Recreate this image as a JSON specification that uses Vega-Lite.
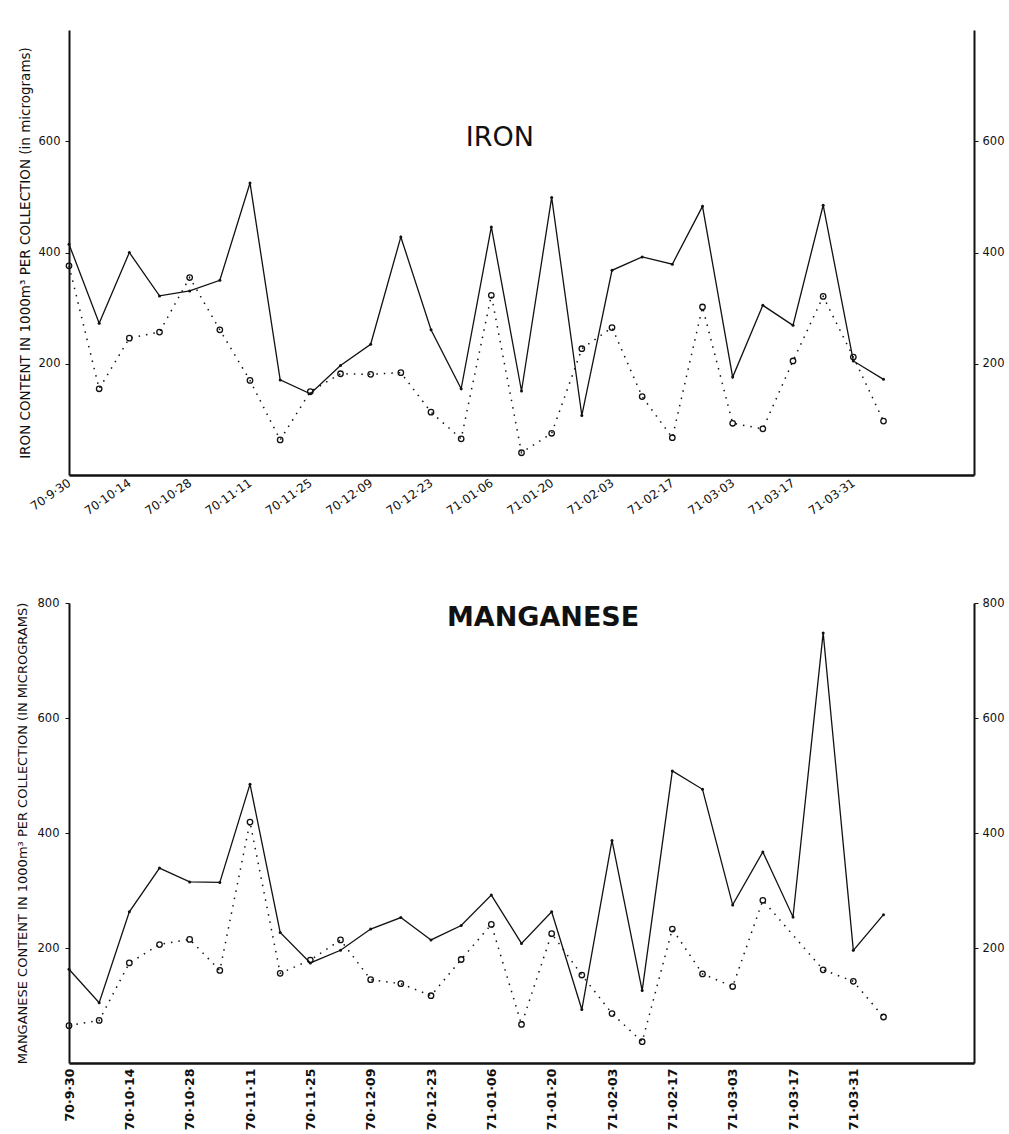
{
  "$schema": "https://vega.github.io/schema/vega-lite/v6.json",
  "background": "white",
  "padding": {"left": 16, "top": 30, "right": 2, "bottom": 2},
  "spacing": 80,
  "config": {
    "view": {"stroke": null},
    "axis": {"domainColor": "#111", "domainWidth": 2, "tickColor": "#111", "labelColor": "#111", "titleColor": "#111", "labelFont": "DejaVu Sans", "titleFont": "DejaVu Sans", "grid": false}
  },
  "datasets": {
    "iron": [
      {"date":"1970-09-30","s":"A","v":415},{"date":"1970-10-07","s":"A","v":273},{"date":"1970-10-14","s":"A","v":400},{"date":"1970-10-21","s":"A","v":322},
      {"date":"1970-10-28","s":"A","v":331},{"date":"1970-11-04","s":"A","v":350},{"date":"1970-11-11","s":"A","v":525},{"date":"1970-11-18","s":"A","v":171},
      {"date":"1970-11-25","s":"A","v":146},{"date":"1970-12-02","s":"A","v":197},{"date":"1970-12-09","s":"A","v":235},{"date":"1970-12-16","s":"A","v":428},
      {"date":"1970-12-23","s":"A","v":261},{"date":"1970-12-30","s":"A","v":155},{"date":"1971-01-06","s":"A","v":446},{"date":"1971-01-13","s":"A","v":151},
      {"date":"1971-01-20","s":"A","v":499},{"date":"1971-01-27","s":"A","v":107},{"date":"1971-02-03","s":"A","v":368},{"date":"1971-02-10","s":"A","v":392},
      {"date":"1971-02-17","s":"A","v":379},{"date":"1971-02-24","s":"A","v":483},{"date":"1971-03-03","s":"A","v":176},{"date":"1971-03-10","s":"A","v":305},
      {"date":"1971-03-17","s":"A","v":269},{"date":"1971-03-24","s":"A","v":485},{"date":"1971-03-31","s":"A","v":205},{"date":"1971-04-07","s":"A","v":172},
      {"date":"1970-09-30","s":"B","v":376},{"date":"1970-10-07","s":"B","v":155},{"date":"1970-10-14","s":"B","v":246},{"date":"1970-10-21","s":"B","v":257},
      {"date":"1970-10-28","s":"B","v":355},{"date":"1970-11-04","s":"B","v":261},{"date":"1970-11-11","s":"B","v":170},{"date":"1970-11-18","s":"B","v":63},
      {"date":"1970-11-25","s":"B","v":150},{"date":"1970-12-02","s":"B","v":182},{"date":"1970-12-09","s":"B","v":181},{"date":"1970-12-16","s":"B","v":184},
      {"date":"1970-12-23","s":"B","v":113},{"date":"1970-12-30","s":"B","v":65},{"date":"1971-01-06","s":"B","v":323},{"date":"1971-01-13","s":"B","v":40},
      {"date":"1971-01-20","s":"B","v":75},{"date":"1971-01-27","s":"B","v":227},{"date":"1971-02-03","s":"B","v":265},{"date":"1971-02-10","s":"B","v":141},
      {"date":"1971-02-17","s":"B","v":67},{"date":"1971-02-24","s":"B","v":302},{"date":"1971-03-03","s":"B","v":93},{"date":"1971-03-10","s":"B","v":83},
      {"date":"1971-03-17","s":"B","v":205},{"date":"1971-03-24","s":"B","v":321},{"date":"1971-03-31","s":"B","v":212},{"date":"1971-04-07","s":"B","v":97}
    ],
    "mn": [
      {"date":"1970-09-30","s":"A","v":163},{"date":"1970-10-07","s":"A","v":105},{"date":"1970-10-14","s":"A","v":263},{"date":"1970-10-21","s":"A","v":339},
      {"date":"1970-10-28","s":"A","v":315},{"date":"1970-11-04","s":"A","v":314},{"date":"1970-11-11","s":"A","v":485},{"date":"1970-11-18","s":"A","v":227},
      {"date":"1970-11-25","s":"A","v":174},{"date":"1970-12-02","s":"A","v":196},{"date":"1970-12-09","s":"A","v":233},{"date":"1970-12-16","s":"A","v":253},
      {"date":"1970-12-23","s":"A","v":214},{"date":"1970-12-30","s":"A","v":239},{"date":"1971-01-06","s":"A","v":292},{"date":"1971-01-13","s":"A","v":208},
      {"date":"1971-01-20","s":"A","v":263},{"date":"1971-01-27","s":"A","v":93},{"date":"1971-02-03","s":"A","v":387},{"date":"1971-02-10","s":"A","v":126},
      {"date":"1971-02-17","s":"A","v":508},{"date":"1971-02-24","s":"A","v":476},{"date":"1971-03-03","s":"A","v":275},{"date":"1971-03-10","s":"A","v":367},
      {"date":"1971-03-17","s":"A","v":254},{"date":"1971-03-24","s":"A","v":748},{"date":"1971-03-31","s":"A","v":196},{"date":"1971-04-07","s":"A","v":258},
      {"date":"1970-09-30","s":"B","v":65},{"date":"1970-10-07","s":"B","v":74},{"date":"1970-10-14","s":"B","v":174},{"date":"1970-10-21","s":"B","v":206},
      {"date":"1970-10-28","s":"B","v":215},{"date":"1970-11-04","s":"B","v":161},{"date":"1970-11-11","s":"B","v":419},{"date":"1970-11-18","s":"B","v":156},
      {"date":"1970-11-25","s":"B","v":179},{"date":"1970-12-02","s":"B","v":214},{"date":"1970-12-09","s":"B","v":145},{"date":"1970-12-16","s":"B","v":138},
      {"date":"1970-12-23","s":"B","v":117},{"date":"1970-12-30","s":"B","v":180},{"date":"1971-01-06","s":"B","v":241},{"date":"1971-01-13","s":"B","v":67},
      {"date":"1971-01-20","s":"B","v":225},{"date":"1971-01-27","s":"B","v":153},{"date":"1971-02-03","s":"B","v":86},{"date":"1971-02-10","s":"B","v":37},
      {"date":"1971-02-17","s":"B","v":233},{"date":"1971-02-24","s":"B","v":155},{"date":"1971-03-03","s":"B","v":133},{"date":"1971-03-10","s":"B","v":283},
      {"date":"1971-03-24","s":"B","v":162},{"date":"1971-03-31","s":"B","v":142},{"date":"1971-04-07","s":"B","v":80}
    ]
  },
  "vconcat": [
    {
      "width": 905,
      "height": 445,
      "data": {"name": "iron"},
      "resolve": {"scale": {"y": "independent"}},
      "layer": [
        {
          "layer": [
            {
              "transform": [{"filter": "datum.s === 'A'"}],
              "mark": {"type": "line", "color": "#111", "strokeWidth": 1.3},
              "encoding": {
                "x": {"field": "date", "type": "temporal", "scale": {"type": "utc", "domain": [{"year": 1970, "month": 9, "date": 30, "utc": true}, {"year": 1971, "month": 4, "date": 28, "utc": true}]}, "axis": {"title": null, "values": [{"year":1970,"month":9,"date":30,"utc":true},{"year":1970,"month":10,"date":14,"utc":true},{"year":1970,"month":10,"date":28,"utc":true},{"year":1970,"month":11,"date":11,"utc":true},{"year":1970,"month":11,"date":25,"utc":true},{"year":1970,"month":12,"date":9,"utc":true},{"year":1970,"month":12,"date":23,"utc":true},{"year":1971,"month":1,"date":6,"utc":true},{"year":1971,"month":1,"date":20,"utc":true},{"year":1971,"month":2,"date":3,"utc":true},{"year":1971,"month":2,"date":17,"utc":true},{"year":1971,"month":3,"date":3,"utc":true},{"year":1971,"month":3,"date":17,"utc":true},{"year":1971,"month":3,"date":31,"utc":true}], "labelExpr": "replace(utcFormat(datum.value, '%y·%m·%d'), '·09·', '·9·')", "labelAngle": -35, "labelAlign": "right", "labelBaseline": "middle", "labelFontSize": 12, "labelPadding": 6, "tickSize": 0, "labelOverlap": false, "labelFlush": false, "domainWidth": 2.5}},
                "y": {"field": "v", "type": "quantitative", "scale": {"domain": [0, 800], "nice": false}, "axis": {"orient": "left", "values": [200, 400, 600], "title": "IRON CONTENT IN 1000m³ PER COLLECTION (in micrograms)", "titleFontSize": 13.5, "titleFontWeight": "normal", "titlePadding": 6, "titleLimit": 800, "labelFontSize": 11.5, "tickSize": 4, "labelPadding": 5}}
              }
            },
            {
              "transform": [{"filter": "datum.s === 'A'"}],
              "mark": {"type": "point", "filled": true, "size": 9, "color": "#111", "opacity": 1},
              "encoding": {
                "x": {"field": "date", "type": "temporal"},
                "y": {"field": "v", "type": "quantitative"}
              }
            },
            {
              "data": {"values": [{"label": "IRON"}]},
              "mark": {"type": "text", "font": "DejaVu Sans", "fontSize": 27, "color": "#111", "align": "center", "baseline": "middle"},
              "encoding": {
                "x": {"datum": {"year": 1971, "month": 1, "date": 8, "utc": true}, "type": "temporal"},
                "y": {"datum": 606, "type": "quantitative"},
                "text": {"field": "label"}
              }
            }
          ]
        },
        {
          "layer": [
            {
              "transform": [{"filter": "datum.s === 'B'"}],
              "mark": {"type": "line", "color": "#111", "strokeWidth": 1.5, "strokeDash": [1.5, 6]},
              "encoding": {
                "x": {"field": "date", "type": "temporal"},
                "y": {"field": "v", "type": "quantitative", "scale": {"domain": [0, 800], "nice": false}, "axis": {"orient": "right", "values": [200, 400, 600], "title": null, "labelFontSize": 11.5, "tickSize": 4, "labelPadding": 4}}
              }
            },
            {
              "transform": [{"filter": "datum.s === 'B'"}],
              "mark": {"type": "point", "shape": "circle", "filled": false, "size": 30, "strokeWidth": 1.3, "color": "#111", "opacity": 1},
              "encoding": {
                "x": {"field": "date", "type": "temporal"},
                "y": {"field": "v", "type": "quantitative"}
              }
            }
          ]
        }
      ]
    },
    {
      "width": 905,
      "height": 460,
      "data": {"name": "mn"},
      "resolve": {"scale": {"y": "independent"}},
      "layer": [
        {
          "layer": [
            {
              "transform": [{"filter": "datum.s === 'A'"}],
              "mark": {"type": "line", "color": "#111", "strokeWidth": 1.3},
              "encoding": {
                "x": {"field": "date", "type": "temporal", "scale": {"type": "utc", "domain": [{"year": 1970, "month": 9, "date": 30, "utc": true}, {"year": 1971, "month": 4, "date": 28, "utc": true}]}, "axis": {"title": null, "values": [{"year":1970,"month":9,"date":30,"utc":true},{"year":1970,"month":10,"date":14,"utc":true},{"year":1970,"month":10,"date":28,"utc":true},{"year":1970,"month":11,"date":11,"utc":true},{"year":1970,"month":11,"date":25,"utc":true},{"year":1970,"month":12,"date":9,"utc":true},{"year":1970,"month":12,"date":23,"utc":true},{"year":1971,"month":1,"date":6,"utc":true},{"year":1971,"month":1,"date":20,"utc":true},{"year":1971,"month":2,"date":3,"utc":true},{"year":1971,"month":2,"date":17,"utc":true},{"year":1971,"month":3,"date":3,"utc":true},{"year":1971,"month":3,"date":17,"utc":true},{"year":1971,"month":3,"date":31,"utc":true}], "labelExpr": "replace(utcFormat(datum.value, '%y·%m·%d'), '·09·', '·9·')", "labelAngle": -90, "labelAlign": "right", "labelBaseline": "middle", "labelFontSize": 12.5, "labelFontWeight": "bold", "labelPadding": 5, "tickSize": 0, "labelOverlap": false, "labelFlush": false, "domainWidth": 2.5}},
                "y": {"field": "v", "type": "quantitative", "scale": {"domain": [0, 800], "nice": false}, "axis": {"orient": "left", "values": [200, 400, 600, 800], "title": "MANGANESE CONTENT IN 1000m³ PER COLLECTION (IN MICROGRAMS)", "titleFontSize": 13, "titleFontWeight": "normal", "titlePadding": 8, "titleLimit": 800, "labelFontSize": 11.5, "tickSize": 4, "labelPadding": 6}}
              }
            },
            {
              "transform": [{"filter": "datum.s === 'A'"}],
              "mark": {"type": "point", "filled": true, "size": 9, "color": "#111", "opacity": 1},
              "encoding": {
                "x": {"field": "date", "type": "temporal"},
                "y": {"field": "v", "type": "quantitative"}
              }
            },
            {
              "data": {"values": [{"label": "MANGANESE"}]},
              "mark": {"type": "text", "font": "DejaVu Sans", "fontSize": 27, "fontWeight": "bold", "color": "#111", "align": "center", "baseline": "middle"},
              "encoding": {
                "x": {"datum": {"year": 1971, "month": 1, "date": 18, "utc": true}, "type": "temporal"},
                "y": {"datum": 774, "type": "quantitative"},
                "text": {"field": "label"}
              }
            }
          ]
        },
        {
          "layer": [
            {
              "transform": [{"filter": "datum.s === 'B'"}],
              "mark": {"type": "line", "color": "#111", "strokeWidth": 1.5, "strokeDash": [1.5, 6]},
              "encoding": {
                "x": {"field": "date", "type": "temporal"},
                "y": {"field": "v", "type": "quantitative", "scale": {"domain": [0, 800], "nice": false}, "axis": {"orient": "right", "values": [200, 400, 600, 800], "title": null, "labelFontSize": 11.5, "tickSize": 4, "labelPadding": 4}}
              }
            },
            {
              "transform": [{"filter": "datum.s === 'B'"}],
              "mark": {"type": "point", "shape": "circle", "filled": false, "size": 30, "strokeWidth": 1.3, "color": "#111", "opacity": 1},
              "encoding": {
                "x": {"field": "date", "type": "temporal"},
                "y": {"field": "v", "type": "quantitative"}
              }
            }
          ]
        }
      ]
    }
  ]
}
